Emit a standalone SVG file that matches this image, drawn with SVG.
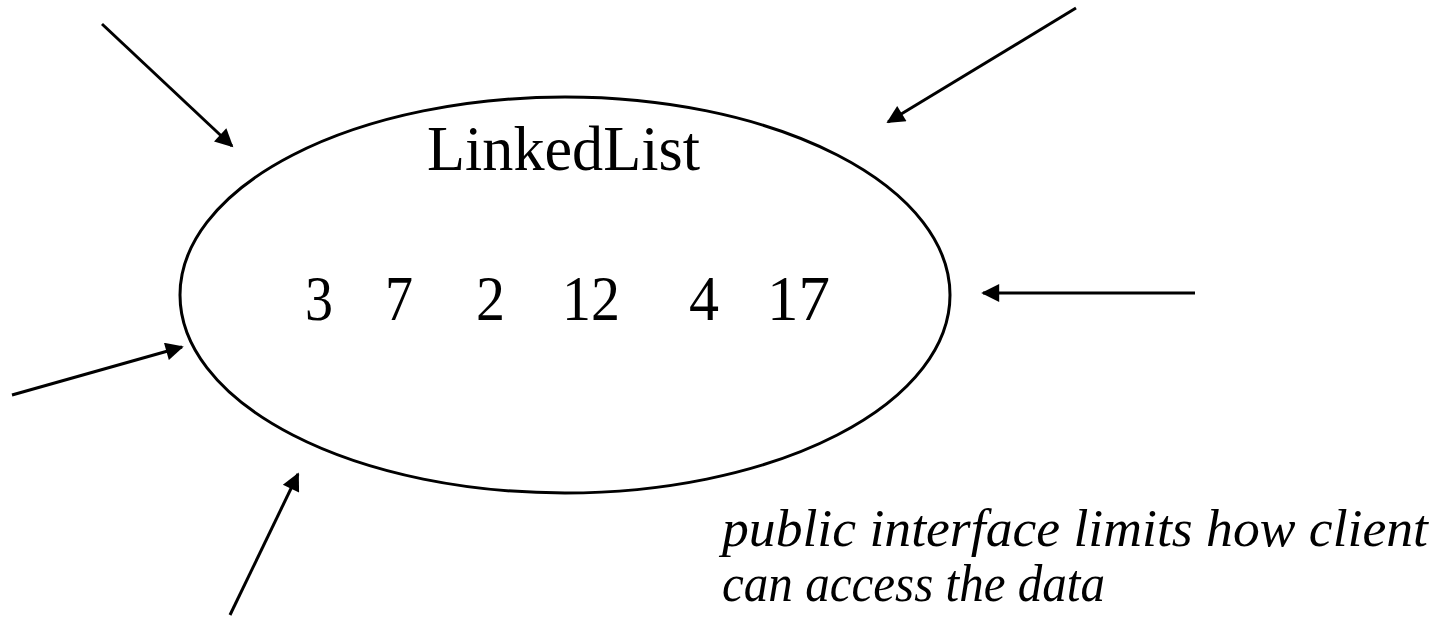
<svg xmlns="http://www.w3.org/2000/svg" width="1445" height="618" viewBox="0 0 1445 618">
  <style>
    .conn { stroke: #000; stroke-width: 3; fill: none; marker-end: url(#head); }
    .shape { stroke: #000; stroke-width: 3; fill: #fff; }
    .label { font-family: "Liberation Serif", "Times New Roman", serif; fill: #000; }
    .num { font-size: 64px; }
    .note { font-size: 53px; font-style: italic; }
  </style>
  <defs>
    <marker id="head" viewBox="0 0 10 10" refX="9" refY="5" markerWidth="7.5" markerHeight="6" orient="auto" markerUnits="strokeWidth">
      <path d="M0,0 L10,5 L0,10 z" fill="#000"/>
    </marker>
  </defs>
  <rect width="1445" height="618" fill="#fff"/>

  <g id="linkedlist">
    <ellipse class="shape" cx="565" cy="295" rx="385" ry="198"/>
    <text class="label" x="427" y="170" font-size="64" textLength="273" lengthAdjust="spacingAndGlyphs">LinkedList</text>
    <text class="label num" x="305" y="320" textLength="28" lengthAdjust="spacingAndGlyphs">3</text>
    <text class="label num" x="385" y="320" textLength="28" lengthAdjust="spacingAndGlyphs">7</text>
    <text class="label num" x="476" y="320" textLength="29" lengthAdjust="spacingAndGlyphs">2</text>
    <text class="label num" x="562" y="320" textLength="58" lengthAdjust="spacingAndGlyphs">12</text>
    <text class="label num" x="689" y="320" textLength="30" lengthAdjust="spacingAndGlyphs">4</text>
    <text class="label num" x="767" y="320" textLength="63" lengthAdjust="spacingAndGlyphs">17</text>
  </g>

  <g id="note">
    <text class="label note" x="722" y="546" textLength="706" lengthAdjust="spacingAndGlyphs">public interface limits how client</text>
    <text class="label note" x="722" y="601" textLength="383" lengthAdjust="spacingAndGlyphs">can access the data</text>
  </g>

  <g id="connectors">
    <line class="conn" x1="102" y1="24" x2="232" y2="146"/>
    <line class="conn" x1="1076" y1="8" x2="888" y2="122"/>
    <line class="conn" x1="1195" y1="293" x2="983" y2="293"/>
    <line class="conn" x1="12" y1="395" x2="182" y2="347"/>
    <line class="conn" x1="230" y1="615" x2="298" y2="474"/>
  </g>
</svg>
